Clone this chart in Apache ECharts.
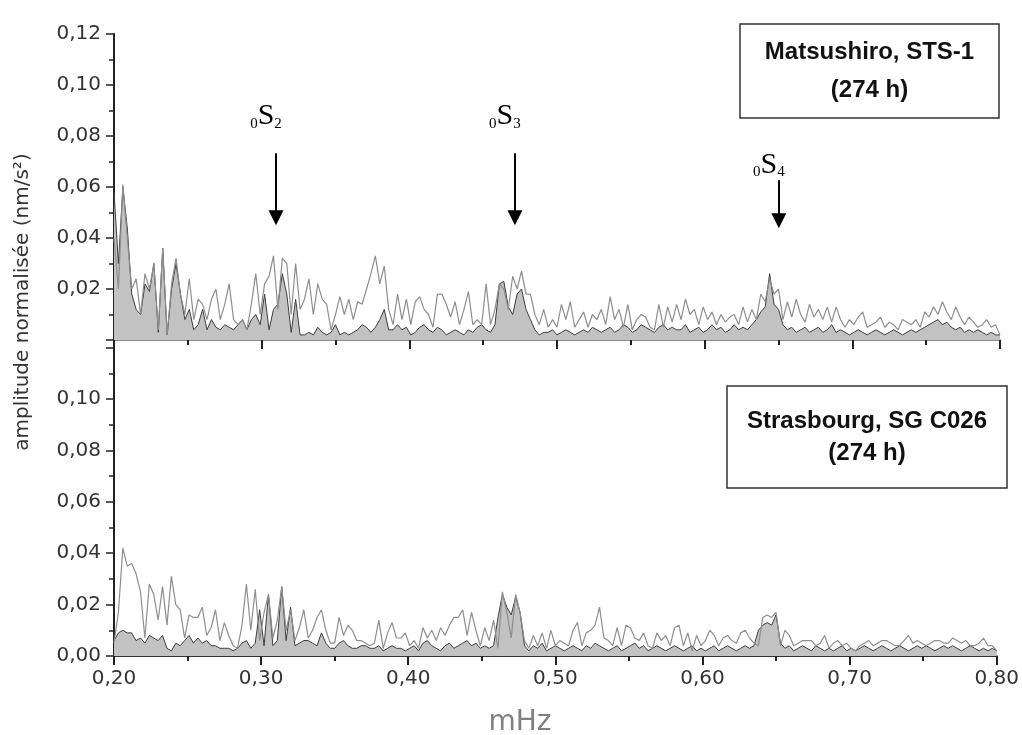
<!DOCTYPE html>
<html><head><meta charset="utf-8">
<script src="https://cdn.jsdelivr.net/npm/echarts@6/dist/echarts.min.js"></script>
<style>html,body{margin:0;padding:0;background:#fff}#c{width:1022px;height:735px}</style>
</head><body><div id="c"></div>
<script>
// frequency sampling (mHz): 0.200 .. 0.800, step 0.003
const freqStart = 0.2, freqStep = 0.003;
const xTickLabels = ['0,20','0,30','0,40','0,50','0,60','0,70','0,80'];

// Matsushiro STS-1 : filled (dark) spectrum and light line spectrum (nm/s²)
const topFilled = [
0.058,0.030,0.060,0.044,0.018,0.012,0.010,0.022,0.019,0.030,
0.003,0.036,0.002,0.020,0.030,0.018,0.008,0.012,0.004,0.006,
0.012,0.004,0.008,0.005,0.004,0.006,0.005,0.004,0.006,0.008,
0.004,0.008,0.010,0.006,0.018,0.004,0.012,0.014,0.026,0.018,
0.003,0.016,0.002,0.002,0.003,0.002,0.005,0.003,0.002,0.003,
0.006,0.002,0.003,0.002,0.003,0.004,0.006,0.005,0.003,0.005,
0.008,0.012,0.004,0.004,0.006,
0.004,0.005,0.002,0.003,0.005,0.006,0.004,0.003,0.005,0.004,
0.002,0.003,0.004,0.003,0.002,0.004,0.003,0.005,0.006,0.004,
0.003,0.006,0.022,0.023,0.013,0.010,0.018,0.020,0.012,0.008,
0.004,0.002,0.003,0.003,0.004,0.002,0.003,0.004,0.003,0.002,
0.003,0.004,0.003,0.005,0.004,0.003,0.004,0.005,0.003,0.004,
0.006,0.005,0.003,0.004,0.006,0.005,0.004,0.003,0.005,0.006,
0.004,0.005,0.004,
0.004,0.006,0.003,0.004,0.005,0.003,0.004,0.006,0.004,0.005,
0.003,0.004,0.006,0.004,0.005,0.004,0.006,0.008,0.011,0.013,
0.026,0.014,0.012,0.006,0.004,0.005,0.003,0.004,0.005,0.003,
0.004,0.005,0.003,0.004,0.006,0.003,0.004,0.003,0.002,0.003,
0.004,0.003,0.002,0.003,0.004,0.003,0.002,0.003,0.004,0.003,
0.002,0.003,0.004,0.003,0.004,0.005,0.006,0.007,0.008,0.006,
0.007,0.005,0.004,0.005,0.003,0.004,0.003,0.004,0.003,0.002,
0.003,0.002,0.002];
const topLine = [
0.040,0.020,0.061,0.040,0.020,0.024,0.010,0.026,0.020,0.030,
0.004,0.036,0.002,0.022,0.032,0.018,0.010,0.024,0.008,0.016,
0.014,0.008,0.016,0.020,0.008,0.014,0.022,0.008,0.006,0.008,
0.004,0.014,0.026,0.010,0.022,0.025,0.033,0.012,0.032,0.030,
0.010,0.030,0.012,0.016,0.024,0.010,0.022,0.016,0.014,0.004,
0.010,0.017,0.010,0.016,0.008,0.015,0.014,0.020,0.026,0.033,
0.022,0.029,0.012,0.006,0.018,
0.008,0.016,0.006,0.015,0.017,0.012,0.010,0.005,0.018,0.018,
0.014,0.009,0.015,0.006,0.012,0.019,0.006,0.008,0.006,0.022,
0.006,0.012,0.022,0.020,0.012,0.025,0.020,0.027,0.018,0.018,
0.010,0.006,0.012,0.005,0.008,0.005,0.014,0.008,0.015,0.005,
0.008,0.011,0.005,0.010,0.008,0.012,0.006,0.017,0.008,0.012,
0.005,0.014,0.004,0.008,0.010,0.009,0.005,0.004,0.014,0.005,
0.013,0.007,0.014,
0.008,0.016,0.010,0.012,0.006,0.013,0.008,0.011,0.006,0.010,
0.007,0.009,0.010,0.006,0.013,0.007,0.012,0.008,0.018,0.015,
0.024,0.018,0.020,0.008,0.015,0.009,0.016,0.010,0.007,0.014,
0.009,0.012,0.008,0.013,0.007,0.013,0.008,0.005,0.008,0.006,
0.009,0.011,0.005,0.006,0.007,0.009,0.005,0.007,0.006,0.004,
0.008,0.007,0.006,0.008,0.005,0.011,0.009,0.013,0.010,0.015,
0.011,0.008,0.013,0.009,0.006,0.009,0.007,0.005,0.006,0.008,
0.005,0.006,0.002];

// Strasbourg SG C026 : filled (dark) spectrum and light line spectrum (nm/s²)
const botFilled = [
0.006,0.009,0.010,0.009,0.009,0.006,0.007,0.005,0.008,0.007,
0.006,0.008,0.003,0.002,0.005,0.004,0.006,0.008,0.005,0.007,
0.005,0.006,0.004,0.004,0.003,0.003,0.003,0.002,0.003,0.005,
0.006,0.003,0.005,0.018,0.004,0.024,0.004,0.006,0.027,0.006,
0.019,0.004,0.005,0.006,0.006,0.005,0.004,0.009,0.005,0.003,
0.003,0.005,0.006,0.004,0.003,0.003,0.004,0.004,0.003,0.003,
0.004,0.002,0.003,0.004,0.003,
0.003,0.002,0.003,0.004,0.002,0.005,0.006,0.004,0.003,0.002,
0.004,0.005,0.003,0.004,0.005,0.006,0.004,0.005,0.003,0.004,
0.003,0.004,0.015,0.024,0.019,0.016,0.023,0.017,0.004,0.002,
0.004,0.003,0.005,0.002,0.003,0.004,0.003,0.002,0.003,0.004,
0.003,0.002,0.004,0.003,0.005,0.004,0.003,0.002,0.003,0.004,
0.002,0.003,0.004,0.005,0.003,0.004,0.002,0.003,0.004,0.003,
0.002,0.003,0.004,
0.003,0.002,0.003,0.004,0.002,0.003,0.002,0.003,0.004,0.002,
0.003,0.004,0.003,0.002,0.003,0.004,0.003,0.004,0.010,0.012,
0.013,0.012,0.016,0.005,0.003,0.004,0.002,0.003,0.004,0.003,
0.002,0.004,0.003,0.002,0.003,0.002,0.003,0.004,0.002,0.003,
0.002,0.003,0.004,0.003,0.002,0.003,0.004,0.003,0.002,0.003,
0.004,0.003,0.002,0.003,0.004,0.003,0.004,0.003,0.002,0.003,
0.004,0.003,0.004,0.003,0.002,0.003,0.004,0.003,0.002,0.003,
0.002,0.003,0.002];
const botLine = [
0.005,0.017,0.042,0.035,0.036,0.032,0.025,0.007,0.028,0.024,
0.014,0.027,0.012,0.031,0.020,0.018,0.007,0.016,0.015,0.015,
0.019,0.008,0.011,0.018,0.006,0.013,0.008,0.004,0.003,0.012,
0.028,0.010,0.026,0.006,0.017,0.024,0.007,0.014,0.027,0.010,
0.018,0.006,0.011,0.018,0.007,0.010,0.015,0.018,0.010,0.005,
0.005,0.015,0.008,0.012,0.010,0.006,0.006,0.005,0.004,0.005,
0.014,0.003,0.009,0.013,0.007,
0.007,0.009,0.004,0.006,0.003,0.011,0.007,0.010,0.006,0.011,
0.008,0.012,0.015,0.015,0.018,0.008,0.017,0.010,0.004,0.011,
0.006,0.014,0.003,0.025,0.017,0.007,0.024,0.017,0.006,0.003,
0.008,0.004,0.009,0.003,0.010,0.004,0.006,0.005,0.004,0.010,
0.013,0.004,0.009,0.010,0.012,0.019,0.007,0.006,0.004,0.011,
0.004,0.012,0.011,0.007,0.006,0.009,0.004,0.003,0.009,0.006,
0.008,0.004,0.011,
0.012,0.004,0.009,0.002,0.008,0.004,0.006,0.010,0.008,0.004,
0.007,0.008,0.006,0.005,0.009,0.010,0.007,0.005,0.004,0.015,
0.016,0.015,0.017,0.004,0.010,0.008,0.004,0.005,0.006,0.006,
0.006,0.004,0.005,0.008,0.003,0.005,0.006,0.004,0.005,0.003,
0.002,0.004,0.005,0.006,0.004,0.005,0.006,0.006,0.005,0.004,
0.004,0.006,0.008,0.005,0.006,0.005,0.004,0.005,0.006,0.006,
0.005,0.005,0.007,0.006,0.005,0.006,0.004,0.004,0.005,0.007,
0.004,0.004,0.002];

// normal-mode annotations: frequency, arrow from/to (nm/s²), label baseline value
const modeNames = ['2', '3', '4'];
const modeFreqs = [0.3097, 0.4715, 0.6502];
const modeArrowFrom = [0.0732, 0.0732, 0.0626];
const modeArrowTo = [0.0479, 0.0479, 0.0468];
const modeLabelY = [0.0818, 0.0818, 0.0628];

const stations = [['Matsushiro, STS-1', '(274 h)'], ['Strasbourg, SG C026', '(274 h)']];

const freqs = [];
for (let i = 0; i < topFilled.length; i++) freqs.push(Math.round((freqStart + i * freqStep) * 10000) / 10000);
const pair = arr => arr.map((v, i) => [freqs[i], v]);
const fmt = v => v.toFixed(2).replace('.', ',');

const chart = echarts.init(document.getElementById('c'));
const tickFont = { fontFamily: 'DejaVu Sans', fontSize: 20, color: '#333' };
const axisCommon = (grid, showLabels) => ({
  gridIndex: grid, type: 'value', min: 0.2, max: 0.8, interval: 0.1,
  axisLine: { show: true, onZero: false, lineStyle: { color: grid === 0 ? '#8a8a8a' : '#333', width: 2 } },
  axisTick: { show: true, length: 9, lineStyle: { color: '#222', width: 2 } },
  minorTick: { show: true, splitNumber: 2, length: 5, lineStyle: { color: '#222', width: 2 } },
  splitLine: { show: false },
  axisLabel: showLabels ? Object.assign({ margin: 13, formatter: v => xTickLabels[Math.round((v - 0.2) * 10)] || '' }, tickFont) : { show: false }
});
const yCommon = (grid, max, fmtFn) => ({
  gridIndex: grid, type: 'value', min: 0, max: max, interval: 0.02,
  axisLine: { show: true, lineStyle: { color: '#222', width: 2 } },
  axisTick: { show: true, length: 8, lineStyle: { color: '#222', width: 1.5 } },
  minorTick: { show: true, splitNumber: 2, length: 5, lineStyle: { color: '#222', width: 1.5 } },
  splitLine: { show: false },
  axisLabel: Object.assign({ margin: 13, formatter: fmtFn }, tickFont)
});

const option = {
  animation: false,
  grid: [
    { left: 114, right: 22, top: 34, height: 306 },
    { left: 114, right: 22, top: 340, height: 316 }
  ],
  xAxis: [axisCommon(0, false), axisCommon(1, true)],
  yAxis: [
    yCommon(0, 0.12, v => v < 0.001 ? '' : fmt(v)),
    yCommon(1, 0.123, v => v > 0.11 ? '' : fmt(v))
  ],
  series: [
    { type: 'line', xAxisIndex: 0, yAxisIndex: 0, data: pair(topFilled), symbol: 'none', z: 2,
      lineStyle: { color: '#3c3c3c', width: 1 }, areaStyle: { color: '#c2c2c2', opacity: 1 },
      markLine: { silent: true, symbol: ['none', 'triangle'], symbolSize: [15, 15], precision: 4,
        lineStyle: { color: '#000', width: 2, type: 'solid' }, label: { show: false },
        data: modeFreqs.map((f, i) => [{ coord: [f, modeArrowFrom[i]] }, { coord: [f, modeArrowTo[i]] }]) } },
    { type: 'line', xAxisIndex: 0, yAxisIndex: 0, data: pair(topLine), symbol: 'none', z: 3,
      lineStyle: { color: '#8e8e8e', width: 1.2 } },
    { type: 'line', xAxisIndex: 1, yAxisIndex: 1, data: pair(botFilled), symbol: 'none', z: 2,
      lineStyle: { color: '#3c3c3c', width: 1 }, areaStyle: { color: '#c2c2c2', opacity: 1 } },
    { type: 'line', xAxisIndex: 1, yAxisIndex: 1, data: pair(botLine), symbol: 'none', z: 3,
      lineStyle: { color: '#8e8e8e', width: 1.2 } }
  ]
};
chart.setOption(option);

// annotations and boxes
const graphics = [];
modeFreqs.forEach((f, i) => {
  const p = chart.convertToPixel({ gridIndex: 0 }, [f, modeLabelY[i]]);
  graphics.push({ type: 'text', x: p[0] - 10, y: p[1], z: 20,
    style: { text: '{s|0}{b|S}{s|' + modeNames[i] + '}', align: 'center', verticalAlign: 'bottom',
      rich: { s: { fontFamily: 'Liberation Serif', fontSize: 15, lineHeight: 15, verticalAlign: 'bottom', fill: '#000' },
              b: { fontFamily: 'Liberation Serif', fontSize: 30, lineHeight: 30, verticalAlign: 'bottom', fill: '#000' } } } });
});
const boxes = [
  { x: 740, y: 24, w: 259, h: 94, lh: 38 },
  { x: 727, y: 386, w: 280, h: 102, lh: 32 }
];
boxes.forEach((b, i) => {
  graphics.push({ type: 'rect', shape: { x: b.x, y: b.y, width: b.w, height: b.h }, z: 20,
    style: { fill: '#fff', stroke: '#333', lineWidth: 1.5 } });
  graphics.push({ type: 'text', x: b.x + b.w / 2, y: b.y + b.h / 2, z: 21,
    style: { text: stations[i].join('\n'), align: 'center', verticalAlign: 'middle',
      fontFamily: 'Liberation Sans', fontWeight: 'bold', fontSize: 24, lineHeight: b.lh, fill: '#111' } });
});
graphics.push({ type: 'text', x: 23, y: 302, rotation: Math.PI / 2, z: 20,
  style: { text: 'amplitude normalisée (nm/s²)', align: 'center', verticalAlign: 'middle',
    fontFamily: 'DejaVu Sans', fontSize: 20, fill: '#333' } });
graphics.push({ type: 'text', x: 520, y: 723, z: 20,
  style: { text: 'mHz', align: 'center', verticalAlign: 'middle',
    fontFamily: 'DejaVu Sans', fontSize: 28, fill: '#808080' } });
chart.setOption({ graphic: graphics });
</script>
</body></html>
